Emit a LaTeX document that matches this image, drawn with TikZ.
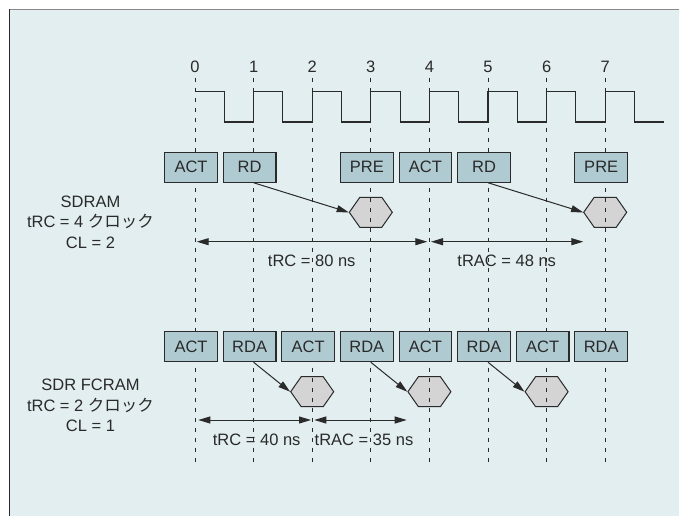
\documentclass[tikz,border=0pt]{standalone}
\usepackage{fontspec}
\setmainfont{Liberation Sans}
\newfontfamily\jpfont{Noto Sans CJK JP}
\usetikzlibrary{arrows.meta,shapes.symbols}
\definecolor{panelbg}{HTML}{E2EEF0}
\definecolor{cmdfill}{HTML}{AFCBD1}
\definecolor{hexfill}{HTML}{D4D4D4}
\definecolor{ink}{HTML}{2A2A2A}
\definecolor{rimgray}{HTML}{8A8A8A}

\begin{document}
\begin{tikzpicture}[x=1pt, y=-1pt, every node/.style={font=\fontsize{16.5}{20.7}\selectfont, text=ink}, >={Triangle[length=12pt, width=7pt]},
	cmd/.style={draw=ink, line width=1.1pt, fill=cmdfill, minimum width=52.7pt, minimum height=30pt, inner sep=0pt},
	dat/.style={signal, signal to=west and east, signal pointer angle=110, draw=ink, line width=1pt, fill=hexfill, minimum width=43pt, minimum height=30pt, inner sep=0pt},
	clkline/.style={draw=ink, line width=1pt, dash pattern=on 4.7pt off 5.3pt},
	gap/.style={draw=ink, line width=1pt, <->},
	lbl/.style={align=center}]
	% background panel
	\useasboundingbox (0,0) rectangle (679,516);
	\fill[panelbg] (9,9.3) rectangle (679,516);
	\draw[rimgray, line width=1.5pt] (8.5,9.3) -- (679,9.3);
	\draw[ink, line width=1pt] (9,9.3) -- (9,516);
	% data hexagons
	\node[dat] (h3) at (370.8,212.3) {};
	\node[dat] (h7) at (605.2,212.3) {};
	\node[dat] (g2) at (312.2,391.7) {};
	\node[dat] (g4) at (429.4,391.7) {};
	\node[dat] (g6) at (546.6,391.7) {};
	% clock edges
	\foreach \i in {0,...,7} {
		\coordinate (t\i) at (195+58.6*\i,77.7);
		\coordinate (b\i) at (195+58.6*\i,466.7);
		\node (n\i) at (195+58.6*\i,66.5) {\i};
		\draw[clkline] (t\i) -- (b\i);
	}
	\draw[ink, line width=1.1pt] (195,91.7) \foreach \i in {1,...,7} {-- ++(29.3,0) -- ++(0,30.3) -- ++(29.3,0) -- ++(0,-30.3)} -- ++(29.3,0) -- ++(0,30.3) -- ++(29.3,0);
	% SDRAM commands
	\node[cmd] (act0) at (191,167.2) {ACT};
	\node[cmd] (rd1) at (249.6,167.2) {RD};
	\node[cmd] (pre3) at (366.8,167.2) {PRE};
	\node[cmd] (act4) at (425.4,167.2) {ACT};
	\node[cmd] (rd5) at (484,167.2) {RD};
	\node[cmd] (pre7) at (601.2,167.2) {PRE};
	\draw[->, ink, line width=1pt] (rd1.south -| t1) -- (h3.west);
	\draw[->, ink, line width=1pt] (rd5.south -| t5) -- (h7.west);
	\coordinate (ua) at (196.7,241.7);
	\coordinate (ub) at (427.3,241.7);
	\coordinate (uc) at (431,241.7);
	\coordinate (ud) at (583.3,241.7);
	\draw[gap] (ua) -- (ub);
	\draw[gap] (uc) -- (ud);
	\node (trc1) at (311.7,260.7) {tRC = 80 ns};
	\node (trac1) at (506.7,260.7) {tRAC = 48 ns};
	\node[lbl] (sdram) at (90.5,222.3) {SDRAM\\tRC = 4 {\jpfont クロック}\\CL = 2};
	% SDR FCRAM commands
	\node[cmd] (fa0) at (191,346.7) {ACT};
	\node[cmd] (fr1) at (249.6,346.7) {RDA};
	\node[cmd] (fa2) at (308.2,346.7) {ACT};
	\node[cmd] (fr3) at (366.8,346.7) {RDA};
	\node[cmd] (fa4) at (425.4,346.7) {ACT};
	\node[cmd] (fr5) at (484,346.7) {RDA};
	\node[cmd] (fa6) at (542.6,346.7) {ACT};
	\node[cmd] (fr7) at (601.2,346.7) {RDA};
	\draw[->, ink, line width=1pt] (fr1.south -| t1) -- (g2.west);
	\draw[->, ink, line width=1pt] (fr3.south -| t3) -- (g4.west);
	\draw[->, ink, line width=1pt] (fr5.south -| t5) -- (g6.west);
	\coordinate (la) at (198.3,420);
	\coordinate (lb) at (311,420);
	\coordinate (lc) at (314.3,420);
	\coordinate (ld) at (406.7,420);
	\draw[gap] (la) -- (lb);
	\draw[gap] (lc) -- (ld);
	\node (trc2) at (256.7,440) {tRC = 40 ns};
	\node (trac2) at (364,440) {tRAC = 35 ns};
	\node[lbl] (fcram) at (90.5,405.5) {SDR FCRAM\\tRC = 2 {\jpfont クロック}\\CL = 1};
\end{tikzpicture}
\end{document}
